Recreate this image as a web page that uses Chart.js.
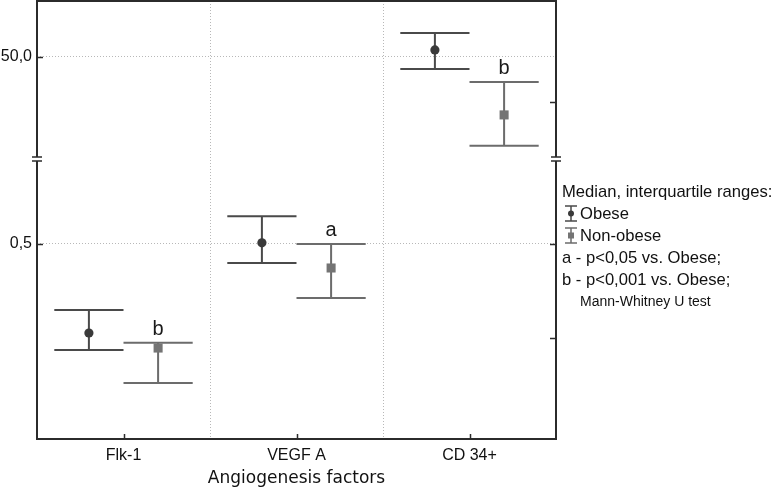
<!DOCTYPE html>
<html>
<head>
<meta charset="utf-8">
<script src="https://cdn.jsdelivr.net/npm/chart.js@4.4.1/dist/chart.umd.min.js"></script>
<style>
  html, body { margin: 0; padding: 0; background: #fff; }
  #wrap { width: 774px; height: 490px; }
</style>
</head>
<body>
<div id="wrap"><canvas id="chart" width="774" height="490"></canvas></div>
<script>
// medians and interquartile ranges
const categories = ['Flk-1', 'VEGF A', 'CD 34+'];
const axisOf = ['yBot', 'yBot', 'yTop'];        // CD 34+ sits above the axis break
const obeseMedian = [0.263, 0.503, 53.9];
const obeseQ1 = [0.218, 0.449, 43.3];
const obeseQ3 = [0.324, 0.574, 63.3];
const nonObeseMedian = [0.223, 0.436, 17.8];
const nonObeseQ1 = [0.130, 0.356, 0.6];
const nonObeseQ3 = [0.237, 0.500, 36.1];
const marks = ['b', 'a', 'b'];                  // significance letters over non-obese

const topTicks = [50];
const topTickLabels = ['50,0'];
const botTicks = [0.5];
const botTickLabels = ['0,5'];
const topRightTicks = [25];
const botRightTicks = [0.5, 0.25];

const legendTitle = 'Median, interquartile ranges:';
const legendNotes = ['a - p<0,05 vs. Obese;', 'b - p<0,001 vs. Obese;'];
const testNote = 'Mann-Whitney U test';

const SANS = '"Liberation Sans", Arial, sans-serif';

// one dataset per group and per axis segment
function buildSets(label, med, q1, q3, shift, style) {
  const out = [];
  ['yBot', 'yTop'].forEach(axis => {
    const data = [];
    categories.forEach((c, i) => {
      if (axisOf[i] !== axis) return;
      data.push({ x: i + 0.5 + shift, y: med[i], q1: q1[i], q3: q3[i], mark: style.marks ? style.marks[i] : '' });
    });
    out.push({
      label, data, yAxisID: axis,
      pointStyle: style.point, pointRadius: style.radius,
      backgroundColor: style.fill, borderColor: style.fill, borderWidth: 0,
      whiskerColor: style.line,
    });
  });
  return out;
}

const datasets = [
  ...buildSets('Obese', obeseMedian, obeseQ1, obeseQ3, -0.2,
    { point: 'circle', radius: 4.6, fill: '#3a3a3a', line: '#4a4a4a' }),
  ...buildSets('Non-obese', nonObeseMedian, nonObeseQ1, nonObeseQ3, 0.2,
    { point: 'rect', radius: 6.4, fill: '#747474', line: '#6c6c6c', marks }),
];

// whiskers + letters, drawn under the markers
const errorBars = {
  id: 'errorBars',
  beforeDatasetsDraw(chart) {
    const c = chart.ctx, xs = chart.scales.x;
    chart.data.datasets.forEach(ds => {
      const ys = chart.scales[ds.yAxisID];
      c.save();
      c.strokeStyle = ds.whiskerColor;
      c.lineWidth = 2;
      ds.data.forEach(p => {
        const x = xs.getPixelForValue(p.x);
        const xl = xs.getPixelForValue(p.x - 0.2), xr = xs.getPixelForValue(p.x + 0.2);
        const y1 = ys.getPixelForValue(p.q1), y3 = ys.getPixelForValue(p.q3);
        c.beginPath();
        c.moveTo(x, y1); c.lineTo(x, y3);
        c.moveTo(xl, y1); c.lineTo(xr, y1);
        c.moveTo(xl, y3); c.lineTo(xr, y3);
        c.stroke();
        if (p.mark) {
          c.fillStyle = '#1a1a1a';
          c.font = '20px ' + SANS;
          c.textAlign = 'center';
          c.textBaseline = 'alphabetic';
          c.fillText(p.mark, x, y3 - 8);
        }
      });
      c.restore();
    });
  },
};

// frame, inward ticks, axis breaks and the side legend
const frame = {
  id: 'frame',
  afterDraw(chart) {
    const c = chart.ctx, a = chart.chartArea, s = chart.scales;
    c.save();
    c.strokeStyle = '#2b2b2b';
    c.lineWidth = 2;
    c.strokeRect(a.left, a.top, a.right - a.left, a.bottom - a.top);

    c.lineWidth = 1.5;
    c.beginPath();
    ['yTop', 'yBot', 'yTopR', 'yBotR'].forEach(id => {
      const sc = s[id];
      const left = sc.position === 'left';
      sc.ticks.forEach(t => {
        const y = Math.round(sc.getPixelForValue(t.value)) + 0.5;
        const x0 = left ? a.left : a.right;
        c.moveTo(x0, y); c.lineTo(left ? x0 + 6 : x0 - 6, y);
      });
    });
    s.x.ticks.forEach(t => {
      if (t.value % 1 === 0) return;
      const x = Math.round(s.x.getPixelForValue(t.value)) + 0.5;
      c.moveTo(x, a.bottom); c.lineTo(x, a.bottom - 5);
    });
    c.stroke();

    // axis breaks on both sides
    const yb = s.yBot.top;
    [a.left, a.right].forEach(x => {
      c.fillStyle = '#fff';
      c.fillRect(x - 2, yb - 2, 4, 4);
      c.strokeStyle = '#2b2b2b';
      c.lineWidth = 1.5;
      c.beginPath();
      c.moveTo(x - 5, yb - 2); c.lineTo(x + 5, yb - 2);
      c.moveTo(x - 5, yb + 2); c.lineTo(x + 5, yb + 2);
      c.stroke();
    });

    // legend
    const lx = a.right + 6;
    c.fillStyle = '#111';
    c.textAlign = 'left';
    c.textBaseline = 'alphabetic';
    c.font = '16.6px ' + SANS;
    c.fillText(legendTitle, lx, 197);
    const items = [
      { text: 'Obese', base: 219, line: '#4a4a4a', fill: '#3a3a3a', round: true },
      { text: 'Non-obese', base: 241, line: '#6c6c6c', fill: '#747474', round: false },
    ];
    items.forEach(it => {
      const cx = lx + 9, top = it.base - 13, bot = it.base + 2;
      c.strokeStyle = it.line;
      c.lineWidth = 1.5;
      c.beginPath();
      c.moveTo(cx - 6, top); c.lineTo(cx + 6, top);
      c.moveTo(cx - 6, bot); c.lineTo(cx + 6, bot);
      c.moveTo(cx, top); c.lineTo(cx, bot);
      c.stroke();
      c.fillStyle = it.fill;
      const my = (top + bot) / 2;
      if (it.round) { c.beginPath(); c.arc(cx, my, 3, 0, Math.PI * 2); c.fill(); }
      else c.fillRect(cx - 3, my - 3, 6, 6);
      c.fillStyle = '#111';
      c.fillText(it.text, lx + 18, it.base);
    });
    legendNotes.forEach((t, i) => c.fillText(t, lx, 263 + i * 22));
    c.font = '14px ' + SANS;
    c.fillText(testNote, lx + 18, 306);
    c.restore();
  },
};

const dotted = { display: false, dash: [1, 2] };
const gridCol = '#b8b8b8';

// no extra label padding around any scale box
const noPad = sc => { sc.paddingTop = 0; sc.paddingBottom = 0; sc.paddingLeft = 0; sc.paddingRight = 0; };

new Chart(document.getElementById('chart'), {
  type: 'scatter',
  data: { datasets },
  plugins: [errorBars, frame],
  options: {
    responsive: false,
    animation: false,
    layout: { autoPadding: false, padding: { top: 1, left: 0, right: 0, bottom: 0 } },
    plugins: { legend: { display: false }, tooltip: { enabled: false } },
    scales: {
      x: {
        type: 'linear', min: 0, max: 3,
        afterBuildTicks: sc => { sc.ticks = [0.5, 1, 1.5, 2, 2.5].map(v => ({ value: v })); },
        afterFit: sc => { sc.height = 51; noPad(sc); },
        ticks: {
          autoSkip: false, maxRotation: 0, padding: 7,
          color: '#111', font: { family: SANS, size: 16 },
          callback: v => (v % 1 ? categories[Math.floor(v)] : ''),
        },
        grid: {
          drawTicks: false,
          color: ctx => (ctx.tick && ctx.tick.value % 1 === 0 ? gridCol : 'rgba(0,0,0,0)'),
        },
        border: dotted,
        title: {
          display: true, text: 'Angiogenesis factors', color: '#111',
          font: { family: '"DejaVu Sans", sans-serif', size: 17 }, padding: { top: 4, bottom: 1 },
        },
      },
      yBot: {
        type: 'linear', position: 'left', stack: 'left', stackWeight: 280,
        min: -0.019, max: 0.726,
        afterBuildTicks: sc => { sc.ticks = botTicks.map(v => ({ value: v })); },
        afterFit: sc => { sc.width = 37; noPad(sc); },
        ticks: { padding: 5, color: '#111', font: { family: SANS, size: 16 },
          callback: v => botTickLabels[botTicks.indexOf(v)] },
        grid: { drawTicks: false, color: gridCol },
        border: dotted,
      },
      yTop: {
        type: 'linear', position: 'left', stack: 'left', stackWeight: 158,
        min: -6.7, max: 81.1,
        afterBuildTicks: sc => { sc.ticks = topTicks.map(v => ({ value: v })); },
        afterFit: sc => { sc.width = 37; noPad(sc); },
        ticks: { padding: 5, color: '#111', font: { family: SANS, size: 16 },
          callback: v => topTickLabels[topTicks.indexOf(v)] },
        grid: { drawTicks: false, color: gridCol },
        border: dotted,
      },
      yTopR: {
        type: 'linear', position: 'right', stack: 'right', stackWeight: 158,
        min: -6.7, max: 81.1,
        afterBuildTicks: sc => { sc.ticks = topRightTicks.map(v => ({ value: v })); },
        afterFit: sc => { sc.width = 218; noPad(sc); },
        ticks: { display: false },
        grid: { drawOnChartArea: false, drawTicks: false },
        border: { display: false },
      },
      yBotR: {
        type: 'linear', position: 'right', stack: 'right', stackWeight: 280,
        min: -0.019, max: 0.726,
        afterBuildTicks: sc => { sc.ticks = botRightTicks.map(v => ({ value: v })); },
        afterFit: sc => { sc.width = 218; noPad(sc); },
        ticks: { display: false },
        grid: { drawOnChartArea: false, drawTicks: false },
        border: { display: false },
      },
    },
  },
});
</script>
</body>
</html>
